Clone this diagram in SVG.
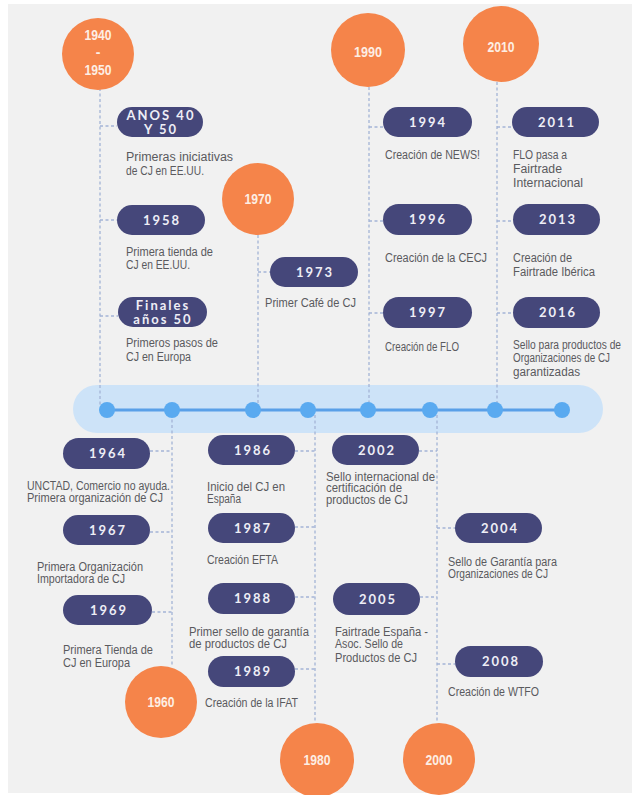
<svg xmlns="http://www.w3.org/2000/svg" width="637" height="795" viewBox="0 0 637 795">
<style>
.bg{fill:#f1f1f1}
.circ{fill:#f5844a}
.ct{font-family:"Liberation Sans",sans-serif;font-size:14px;font-weight:bold;fill:#fdeee4;text-anchor:middle}
.pill{fill:#45477a}
.pt{font-family:Lato,"Open Sans",sans-serif;font-size:13px;font-weight:bold;fill:#eeeef6;text-anchor:middle;letter-spacing:2px}
.d{font-family:"Liberation Sans",sans-serif;font-size:12px;fill:#5a5a5e}
.dash{stroke:#a4b4d6;stroke-width:1.3;stroke-dasharray:3 2.5;fill:none}
.bar{fill:#cde3f8}
.tl{stroke:#5aa0e8;stroke-width:3}
.dot{fill:#5aaaf0}
</style>
<rect class="bg" x="8" y="4" width="624" height="789"/>

<g id="timeline">
<rect class="bar" x="73" y="385" width="530" height="48" rx="24"/>
</g>

<g id="connectors">
<line class="tl" x1="107" y1="410" x2="562" y2="410"/>
<path class="dash" d="M100 88V405M258 235V403M369 87V404M497 82V404M172 414V666M315 415V723M437 415V723"/>
<path class="dash" d="M100 126H117M100 220H117M100 316H118M258 272H270M369 127H383M369 221H383M369 313H383M497 127H512M497 221H513M497 313H513M150 451H172M150 532H172M152 612H172M295 451H315M295 527H315M295 597H315M295 669H315M419 451H437M437 528H455M420 597H437M437 664H455"/>
</g>

<g id="dots">
<circle class="dot" cx="107" cy="410" r="8"/>
<circle class="dot" cx="172" cy="410" r="8"/>
<circle class="dot" cx="253" cy="410" r="8"/>
<circle class="dot" cx="308" cy="410" r="8"/>
<circle class="dot" cx="368" cy="410" r="8"/>
<circle class="dot" cx="430" cy="410" r="8"/>
<circle class="dot" cx="495" cy="410" r="8"/>
<circle class="dot" cx="562" cy="410" r="8"/>
</g>

<g id="c1940"><circle class="circ" cx="98" cy="54" r="36"/><text class="ct" x="98" y="40" textLength="27" lengthAdjust="spacingAndGlyphs">1940</text><text class="ct" x="98" y="57">-</text><text class="ct" x="98" y="75" textLength="27" lengthAdjust="spacingAndGlyphs">1950</text></g>
<g id="c1970"><circle class="circ" cx="258" cy="199" r="36"/><text class="ct" x="258" y="204" textLength="27" lengthAdjust="spacingAndGlyphs">1970</text></g>
<g id="c1990"><circle class="circ" cx="368" cy="50" r="37"/><text class="ct" x="368" y="57" textLength="28" lengthAdjust="spacingAndGlyphs">1990</text></g>
<g id="c2010"><circle class="circ" cx="501" cy="44" r="38"/><text class="ct" x="501" y="52" textLength="27" lengthAdjust="spacingAndGlyphs">2010</text></g>
<g id="c1960"><circle class="circ" cx="161" cy="702" r="36"/><text class="ct" x="161" y="707" textLength="27" lengthAdjust="spacingAndGlyphs">1960</text></g>
<g id="c1980"><circle class="circ" cx="317" cy="760" r="37"/><text class="ct" x="317" y="765" textLength="27" lengthAdjust="spacingAndGlyphs">1980</text></g>
<g id="c2000"><circle class="circ" cx="439" cy="759" r="36"/><text class="ct" x="439" y="765" textLength="27" lengthAdjust="spacingAndGlyphs">2000</text></g>

<g id="e1940s"><rect class="pill" x="117" y="107" width="86" height="30" rx="15"/><text class="pt" x="161" y="120">ANOS 40</text><text class="pt" x="161" y="134">Y 50</text>
<text class="d" x="126" y="161" textLength="107" lengthAdjust="spacingAndGlyphs">Primeras iniciativas</text><text class="d" x="126" y="175" textLength="78" lengthAdjust="spacingAndGlyphs">de CJ en EE.UU.</text></g>
<g id="e1958"><rect class="pill" x="117" y="205" width="88" height="30" rx="15"/><text class="pt" x="162" y="225">1958</text>
<text class="d" x="126" y="256" textLength="87" lengthAdjust="spacingAndGlyphs">Primera tienda de</text><text class="d" x="126" y="269" textLength="64" lengthAdjust="spacingAndGlyphs">CJ en EE.UU.</text></g>
<g id="e1950s"><rect class="pill" x="118" y="297" width="89" height="30" rx="15"/><text class="pt" x="163" y="310">Finales</text><text class="pt" x="163" y="324">años 50</text>
<text class="d" x="126" y="347" textLength="92" lengthAdjust="spacingAndGlyphs">Primeros pasos de</text><text class="d" x="126" y="361" textLength="65" lengthAdjust="spacingAndGlyphs">CJ en Europa</text></g>
<g id="e1973"><rect class="pill" x="270" y="257" width="88" height="30" rx="15"/><text class="pt" x="315" y="277">1973</text>
<text class="d" x="265" y="307" textLength="91" lengthAdjust="spacingAndGlyphs">Primer Café de CJ</text></g>
<g id="e1994"><rect class="pill" x="383" y="107" width="89" height="30" rx="15"/><text class="pt" x="428" y="127">1994</text>
<text class="d" x="385" y="159" textLength="95" lengthAdjust="spacingAndGlyphs">Creación de NEWS!</text></g>
<g id="e1996"><rect class="pill" x="383" y="204" width="89" height="31" rx="15.5"/><text class="pt" x="428" y="224">1996</text>
<text class="d" x="385" y="262" textLength="102" lengthAdjust="spacingAndGlyphs">Creación de la CECJ</text></g>
<g id="e1997"><rect class="pill" x="383" y="297" width="89" height="31" rx="15.5"/><text class="pt" x="428" y="317">1997</text>
<text class="d" x="385" y="351" textLength="74" lengthAdjust="spacingAndGlyphs">Creación de FLO</text></g>
<g id="e2011"><rect class="pill" x="512" y="107" width="87" height="30" rx="15"/><text class="pt" x="557" y="127">2011</text>
<text class="d" x="513" y="159" textLength="54" lengthAdjust="spacingAndGlyphs">FLO pasa a</text><text class="d" x="513" y="173" textLength="49" lengthAdjust="spacingAndGlyphs">Fairtrade</text><text class="d" x="513" y="187" textLength="70" lengthAdjust="spacingAndGlyphs">Internacional</text></g>
<g id="e2013"><rect class="pill" x="513" y="204" width="87" height="31" rx="15.5"/><text class="pt" x="558" y="224">2013</text>
<text class="d" x="513" y="262" textLength="59" lengthAdjust="spacingAndGlyphs">Creación de</text><text class="d" x="513" y="276" textLength="82" lengthAdjust="spacingAndGlyphs">Fairtrade Ibérica</text></g>
<g id="e2016"><rect class="pill" x="513" y="297" width="87" height="31" rx="15.5"/><text class="pt" x="558" y="317">2016</text>
<text class="d" x="513" y="349" textLength="108" lengthAdjust="spacingAndGlyphs">Sello para productos de</text><text class="d" x="513" y="362" textLength="97" lengthAdjust="spacingAndGlyphs">Organizaciones de CJ</text><text class="d" x="513" y="376" textLength="67" lengthAdjust="spacingAndGlyphs">garantizadas</text></g>

<g id="e1964"><rect class="pill" x="63" y="438" width="87" height="31" rx="15.5"/><text class="pt" x="108" y="458">1964</text>
<text class="d" x="27" y="490" textLength="143" lengthAdjust="spacingAndGlyphs">UNCTAD, Comercio no ayuda.</text><text class="d" x="27" y="502" textLength="136" lengthAdjust="spacingAndGlyphs">Primera organización de CJ</text></g>
<g id="e1967"><rect class="pill" x="63" y="515" width="87" height="30" rx="15"/><text class="pt" x="108" y="535">1967</text>
<text class="d" x="37" y="571" textLength="106" lengthAdjust="spacingAndGlyphs">Primera Organización</text><text class="d" x="37" y="583" textLength="88" lengthAdjust="spacingAndGlyphs">Importadora de CJ</text></g>
<g id="e1969"><rect class="pill" x="63" y="595" width="89" height="30" rx="15"/><text class="pt" x="109" y="615">1969</text>
<text class="d" x="63" y="654" textLength="90" lengthAdjust="spacingAndGlyphs">Primera Tienda de</text><text class="d" x="63" y="667" textLength="67" lengthAdjust="spacingAndGlyphs">CJ en Europa</text></g>
<g id="e1986"><rect class="pill" x="208" y="435" width="87" height="30" rx="15"/><text class="pt" x="253" y="455">1986</text>
<text class="d" x="207" y="491" textLength="78" lengthAdjust="spacingAndGlyphs">Inicio del CJ en</text><text class="d" x="207" y="503" textLength="34" lengthAdjust="spacingAndGlyphs">España</text></g>
<g id="e1987"><rect class="pill" x="208" y="513" width="87" height="30" rx="15"/><text class="pt" x="253" y="533">1987</text>
<text class="d" x="207" y="564" textLength="71" lengthAdjust="spacingAndGlyphs">Creación EFTA</text></g>
<g id="e1988"><rect class="pill" x="208" y="583" width="87" height="31" rx="15.5"/><text class="pt" x="253" y="603">1988</text>
<text class="d" x="189" y="636" textLength="120" lengthAdjust="spacingAndGlyphs">Primer sello de garantía</text><text class="d" x="189" y="648" textLength="98" lengthAdjust="spacingAndGlyphs">de productos de CJ</text></g>
<g id="e1989"><rect class="pill" x="208" y="656" width="87" height="31" rx="15.5"/><text class="pt" x="253" y="676">1989</text>
<text class="d" x="205" y="707" textLength="93" lengthAdjust="spacingAndGlyphs">Creación de la IFAT</text></g>
<g id="e2002"><rect class="pill" x="332" y="435" width="87" height="30" rx="15"/><text class="pt" x="377" y="455">2002</text>
<text class="d" x="326" y="481" textLength="109" lengthAdjust="spacingAndGlyphs">Sello internacional de</text><text class="d" x="326" y="492" textLength="76" lengthAdjust="spacingAndGlyphs">certificación de</text><text class="d" x="326" y="504" textLength="82" lengthAdjust="spacingAndGlyphs">productos de CJ</text></g>
<g id="e2004"><rect class="pill" x="455" y="513" width="87" height="30" rx="15"/><text class="pt" x="500" y="533">2004</text>
<text class="d" x="448" y="566" textLength="109" lengthAdjust="spacingAndGlyphs">Sello de Garantía para</text><text class="d" x="448" y="578" textLength="100" lengthAdjust="spacingAndGlyphs">Organizaciones de CJ</text></g>
<g id="e2005"><rect class="pill" x="333" y="583" width="87" height="32" rx="16"/><text class="pt" x="378" y="604">2005</text>
<text class="d" x="335" y="636" textLength="93" lengthAdjust="spacingAndGlyphs">Fairtrade España -</text><text class="d" x="335" y="648" textLength="68" lengthAdjust="spacingAndGlyphs">Asoc. Sello de</text><text class="d" x="335" y="662" textLength="82" lengthAdjust="spacingAndGlyphs">Productos de CJ</text></g>
<g id="e2008"><rect class="pill" x="455" y="646" width="88" height="31" rx="15.5"/><text class="pt" x="501" y="666">2008</text>
<text class="d" x="448" y="696" textLength="91" lengthAdjust="spacingAndGlyphs">Creación de WTFO</text></g>
</svg>
